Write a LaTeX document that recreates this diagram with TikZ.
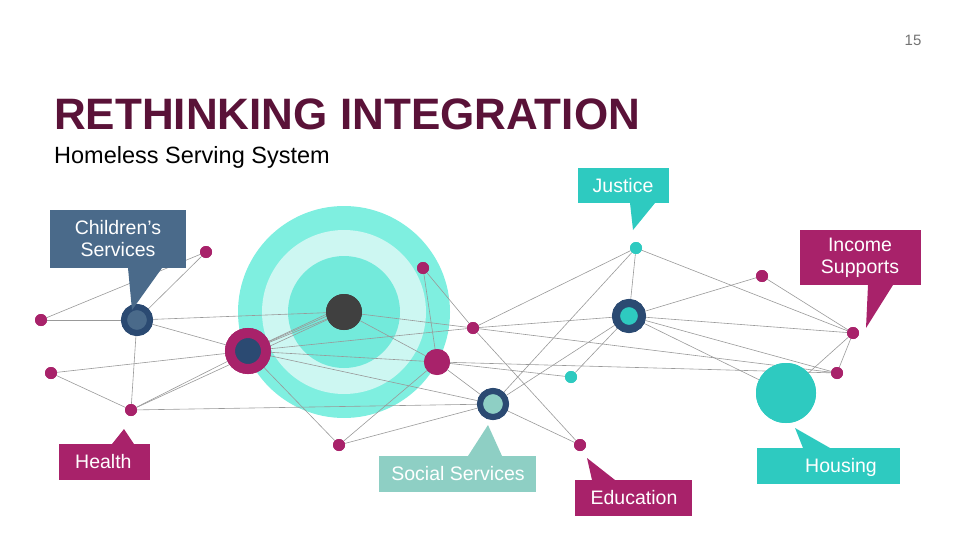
\documentclass[tikz,border=0pt]{standalone}
\usepackage{fontspec}
\setmainfont{Liberation Sans}
\definecolor{mag}{HTML}{A8226A}
\definecolor{navy}{HTML}{2B4A72}
\definecolor{slate}{HTML}{4A6A8A}
\definecolor{teal}{HTML}{2ECAC0}
\definecolor{aqua}{HTML}{7FEFE0}
\definecolor{pale}{HTML}{CDF7F2}
\definecolor{sage}{HTML}{8ECFC4}
\definecolor{plum}{HTML}{5A1238}
\definecolor{lin}{HTML}{999999}
\begin{document}
\begin{tikzpicture}[x=1pt,y=-1pt,
  dot/.style={circle,fill=mag,inner sep=0pt,minimum size=12pt},
  ring/.style={circle,draw=navy,line width=6pt,inner sep=0pt,minimum size=26pt},
  lbl/.style={text=white,font=\fontsize{19.5}{22}\selectfont,align=center,inner sep=0pt},
  edge/.style={lin,line width=0.6pt}]
\useasboundingbox (0,0) rectangle (960,540);
\fill[aqua] (344,312) circle (106);
\fill[pale] (344,312) circle (82);
\fill[aqua!85!teal] (344,312) circle (56);
% nodes
\node[ring,fill=slate] (cs) at (137,320) {};
\node[dot] (a1) at (41,320) {};
\node[dot] (a2) at (206,252) {};
\node[dot] (a3) at (51,373) {};
\node[dot] (h) at (131,410) {};
\node[circle,fill=navy,draw=mag,line width=10pt,minimum size=36pt,inner sep=0pt] (big) at (248,351) {};
\node[circle,fill=black!75,inner sep=0pt,minimum size=36pt] (c) at (344,312) {};
\node[dot] (m) at (423,268) {};
\node[dot,minimum size=26pt] (p) at (437,362) {};
\node[dot] (b) at (473,328) {};
\node[ring,fill=sage] (ss) at (493,404) {};
\node[dot] (e) at (339,445) {};
\node[dot,fill=teal] (j) at (636,248) {};
\node[ring,fill=teal,line width=8pt] (in) at (629,316) {};
\node[dot,fill=teal] (t) at (571,377) {};
\node[dot] (ed) at (580,445) {};
\node[dot] (r1) at (762,276) {};
\node[dot] (r2) at (853,333) {};
\node[dot] (r3) at (837,373) {};
\node[circle,fill=teal,inner sep=0pt,minimum size=60pt] (hs) at (786,393) {};
% edges
\foreach \u/\v in {cs/a1,cs/a2,a1/a2,cs/h,cs/c,cs/big,a3/big,a3/h,h/big,h/c,h/ss,big/c,big/p,big/ss,big/e,big/b,c/b,c/p,m/p,m/b,e/p,e/ss,b/j,b/in,b/ed,b/r3,p/ss,p/r3,p/t,ss/j,ss/in,ss/ed,t/in,j/in,j/r2,in/r1,in/r2,in/r3,in/hs,r1/r2,r2/r3,r2/hs}
  \draw[edge] (\u) -- (\v);
\draw[edge] (big) -- ([yshift=6]c.center);
\draw[edge] (big) -- ([xshift=-8]c.center);
% redraw nodes on top
\node[ring,fill=slate] at (137,320) {};
\foreach \p in {{41,320},{206,252},{51,373},{131,410},{423,268},{473,328},{339,445},{580,445},{762,276},{853,333},{837,373}}
  \node[dot] at (\p) {};
\node[circle,fill=navy,draw=mag,line width=10pt,minimum size=36pt,inner sep=0pt] at (248,351) {};
\node[circle,fill=black!75,inner sep=0pt,minimum size=36pt] at (344,312) {};
\node[dot,minimum size=26pt] at (437,362) {};
\node[ring,fill=sage] at (493,404) {};
\node[dot,fill=teal] at (636,248) {};
\node[ring,fill=teal,line width=8pt] at (629,316) {};
\node[dot,fill=teal] at (571,377) {};
\node[circle,fill=teal,inner sep=0pt,minimum size=60pt] at (786,393) {};
% callouts
\fill[slate] (50,210) rectangle (186,268);
\fill[slate] (128,268) -- (132,310) -- (162,268) -- cycle;
\node[lbl] (lcs) at (118,239) {Children’s\\Services};
\fill[teal] (578,168) rectangle (669,203);
\fill[teal] (630,203) -- (633,230) -- (655,203) -- cycle;
\node[lbl] (lj) at (623,186) {Justice};
\fill[mag] (800,230) rectangle (921,285);
\fill[mag] (868,285) -- (866,328) -- (893,285) -- cycle;
\node[lbl] (li) at (860,258) {Income\\Supports};
\fill[mag] (59,444) rectangle (150,480);
\fill[mag] (112,444) -- (124,429) -- (134,444) -- cycle;
\node[lbl,anchor=west] (lh) at (75,462) {Health};
\fill[sage] (379,456) rectangle (536,492);
\fill[sage] (468,456) -- (488,425) -- (502,456) -- cycle;
\node[lbl] (lss) at (458,474) {Social Services};
\fill[mag] (575,480) rectangle (692,516);
\fill[mag] (587,458) -- (592,480) -- (615,480) -- cycle;
\node[lbl] (le) at (634,498) {Education};
\fill[teal] (757,448) rectangle (900,484);
\fill[teal] (795,428) -- (803,448) -- (830,448) -- cycle;
\node[lbl] (lho) at (841,467) {Housing};
% titles
\node[anchor=west,text=plum,font=\bfseries\fontsize{44}{44}\selectfont,inner sep=0pt] (title) at (54,114) {RETHINKING INTEGRATION};
\node[anchor=west,font=\fontsize{23.5}{25}\selectfont,inner sep=0pt] (sub) at (54,157) {Homeless Serving System};
\node[text=black!55,font=\fontsize{15}{16}\selectfont,inner sep=0pt] (pg) at (913,40) {15};
\end{tikzpicture}
\end{document}
